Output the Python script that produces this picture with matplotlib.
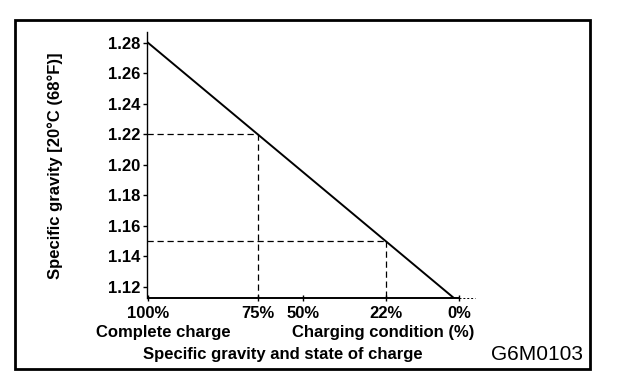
import numpy as np
import matplotlib.pyplot as plt
from matplotlib.patches import Rectangle

# state of charge labels and the specific gravity each one sits at
charge_labels = ["100%", "75%", "50%", "22%", "0%"]
charge_gravity = [1.28, 1.22, 1.195, 1.15, 1.11]

# the straight line: gravity vs charge (x axis measured in gravity)
line_x = [1.28, 1.11]
line_y = [1.28, 1.11]

# reference points marked with dashed guides
guide_x = [1.22, 1.15]
guide_y = [1.22, 1.15]

yticks = [1.12, 1.14, 1.16, 1.18, 1.20, 1.22, 1.24, 1.26, 1.28]

plt.rcParams['font.family'] = ['Liberation Sans', 'DejaVu Sans']
fs = 12

fig = plt.figure(figsize=(6.24, 3.8), dpi=100)
ax = fig.add_axes([147/624, 82/380, 328/624, 266/380])

xmin = 1.28 + 0.0005
xmax = 1.28 - 328/1835
ax.set_xlim(xmin, xmax)
ax.set_ylim(1.1128, 1.287)

ax.plot(line_x, line_y, color='black', lw=1.4)
for gx, gy in zip(guide_x, guide_y):
    ax.plot([xmin, gx], [gy, gy], color='black', lw=0.9, ls=(0, (5, 3)))
    ax.plot([gx, gx], [gy, 1.1128], color='black', lw=0.9, ls=(0, (5, 3)))

ax.plot([1.11, xmax], [1.1128, 1.1128], color='black', lw=0.7, ls=(0, (2, 2)),
        clip_on=False)

for s in ['top', 'right']:
    ax.spines[s].set_visible(False)
ax.spines['bottom'].set_bounds(1.28, 1.11)
ax.spines['left'].set_linewidth(1.0)
ax.spines['bottom'].set_linewidth(1.4)

ax.set_yticks(yticks)
ax.set_yticklabels([f"{v:.2f}" for v in yticks], fontweight='bold', fontsize=fs)
ax.set_xticks(charge_gravity)
ax.set_xticklabels(charge_labels, fontweight='bold', fontsize=fs)
ax.tick_params(axis='y', direction='out', length=3, width=1, pad=2)
ax.tick_params(axis='x', direction='inout', length=4, width=1, pad=4)

fig.text(55/624, 1 - 166/380, "Specific gravity [20°C (68°F)]", rotation=90,
         ha='center', va='center', fontsize=fs, fontweight='bold')
fig.text(163/624, 1 - 332/380, "Complete charge", ha='center', va='center',
         fontsize=fs, fontweight='bold')
fig.text(383/624, 1 - 332/380, "Charging condition (%)", ha='center', va='center',
         fontsize=fs, fontweight='bold')
fig.text(283/624, 1 - 354/380, "Specific gravity and state of charge", ha='center',
         va='center', fontsize=fs, fontweight='bold')
fig.text(537/624, 1 - 354/380, "G6M0103", ha='center', va='center', fontsize=15)

fig.patches.append(Rectangle((15/624, 11/380), 575/624, 349/380, fill=False,
                             lw=2, edgecolor='black', transform=fig.transFigure))

fig.savefig('out.png', dpi=100)
